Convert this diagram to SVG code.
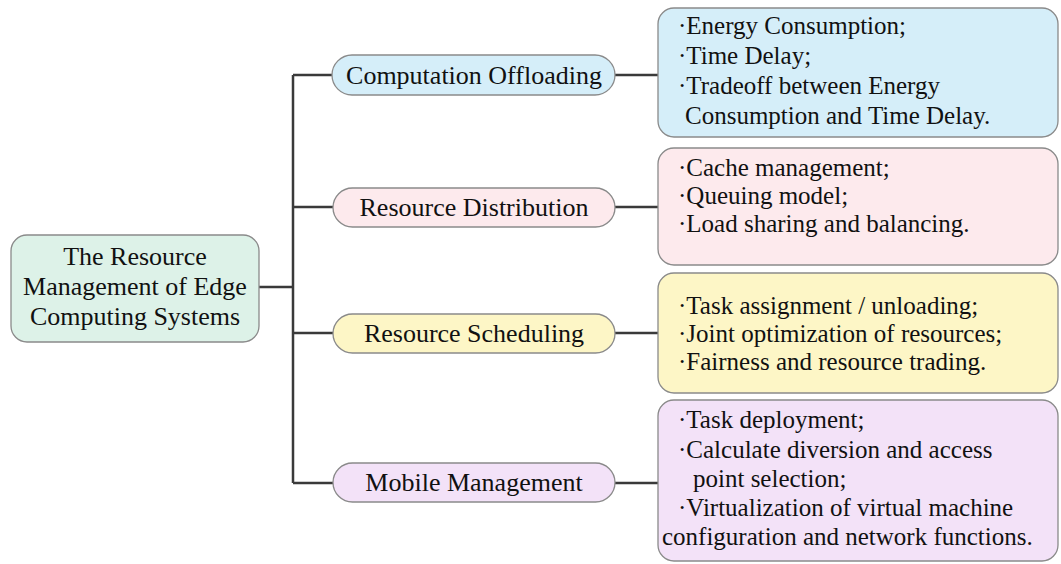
<svg xmlns="http://www.w3.org/2000/svg" width="1061" height="564" viewBox="0 0 1061 564" font-family="Liberation Serif">
<rect width="1061" height="564" fill="#fff"/>
<g id="connectors" stroke="#3a3a3a" stroke-width="2.5" fill="none">
<path d="M259 287H293M293 75V483M293 75H332M293 207H333M293 333H333M293 483H333"/>
<path d="M615 75H658M615 207H658M615 333H658M615 483H658"/>
</g>
<g id="root">
<rect x="11" y="235" width="248" height="107" rx="16" fill="#ddf2e8" stroke="#8a8a8a" stroke-width="1.3"/>
<text style="font-family:'Liberation Serif',serif" font-size="26" fill="#111" text-anchor="middle" x="135" y="265">The Resource</text>
<text style="font-family:'Liberation Serif',serif" font-size="26" fill="#111" text-anchor="middle" x="135" y="295">Management of Edge</text>
<text style="font-family:'Liberation Serif',serif" font-size="26" fill="#111" text-anchor="middle" x="135" y="325">Computing Systems</text>
</g>
<g id="computation-offloading">
<rect x="332" y="55" width="283" height="40" rx="20" fill="#d5eef9" stroke="#8a8a8a" stroke-width="1.3"/>
<text style="font-family:'Liberation Serif',serif" font-size="26" fill="#111" text-anchor="middle" x="474" y="84">Computation Offloading</text>
</g>
<g id="resource-distribution">
<rect x="333" y="188" width="282" height="39" rx="19.5" fill="#fdeaed" stroke="#8a8a8a" stroke-width="1.3"/>
<text style="font-family:'Liberation Serif',serif" font-size="26" fill="#111" text-anchor="middle" x="474" y="216">Resource Distribution</text>
</g>
<g id="resource-scheduling">
<rect x="333" y="314" width="282" height="39" rx="19.5" fill="#fdf6c6" stroke="#8a8a8a" stroke-width="1.3"/>
<text style="font-family:'Liberation Serif',serif" font-size="26" fill="#111" text-anchor="middle" x="474" y="342">Resource Scheduling</text>
</g>
<g id="mobile-management">
<rect x="333" y="463" width="282" height="39" rx="19.5" fill="#f3e2f8" stroke="#8a8a8a" stroke-width="1.3"/>
<text style="font-family:'Liberation Serif',serif" font-size="26" fill="#111" text-anchor="middle" x="474" y="491">Mobile Management</text>
</g>
<g id="offloading-details">
<rect x="658" y="8" width="400" height="129" rx="16" fill="#d5eef9" stroke="#8a8a8a" stroke-width="1.3"/>
<text style="font-family:'Liberation Serif',serif" font-size="25" fill="#111" x="678" y="34">·Energy Consumption;</text>
<text style="font-family:'Liberation Serif',serif" font-size="25" fill="#111" x="678" y="64">·Time Delay;</text>
<text style="font-family:'Liberation Serif',serif" font-size="25" fill="#111" x="678" y="94">·Tradeoff between Energy</text>
<text style="font-family:'Liberation Serif',serif" font-size="25" fill="#111" x="685" y="124">Consumption and Time Delay.</text>
</g>
<g id="distribution-details">
<rect x="658" y="148" width="400" height="117" rx="16" fill="#fdeaed" stroke="#8a8a8a" stroke-width="1.3"/>
<text style="font-family:'Liberation Serif',serif" font-size="25" fill="#111" x="678" y="176">·Cache management;</text>
<text style="font-family:'Liberation Serif',serif" font-size="25" fill="#111" x="678" y="204">·Queuing model;</text>
<text style="font-family:'Liberation Serif',serif" font-size="25" fill="#111" x="678" y="232">·Load sharing and balancing.</text>
</g>
<g id="scheduling-details">
<rect x="658" y="273" width="400" height="120" rx="16" fill="#fdf6c6" stroke="#8a8a8a" stroke-width="1.3"/>
<text style="font-family:'Liberation Serif',serif" font-size="25" fill="#111" x="678" y="314">·Task assignment / unloading;</text>
<text style="font-family:'Liberation Serif',serif" font-size="25" fill="#111" x="678" y="342">·Joint optimization of resources;</text>
<text style="font-family:'Liberation Serif',serif" font-size="25" fill="#111" x="678" y="370">·Fairness and resource trading.</text>
</g>
<g id="mobile-details">
<rect x="658" y="400" width="400" height="161" rx="16" fill="#f3e2f8" stroke="#8a8a8a" stroke-width="1.3"/>
<text style="font-family:'Liberation Serif',serif" font-size="25" fill="#111" x="678" y="428">·Task deployment;</text>
<text style="font-family:'Liberation Serif',serif" font-size="25" fill="#111" x="678" y="458">·Calculate diversion and access</text>
<text style="font-family:'Liberation Serif',serif" font-size="25" fill="#111" x="693" y="487">point selection;</text>
<text style="font-family:'Liberation Serif',serif" font-size="25" fill="#111" x="678" y="516">·Virtualization of virtual machine</text>
<text style="font-family:'Liberation Serif',serif" font-size="25" fill="#111" x="662" y="545">configuration and network functions.</text>
</g>
</svg>
